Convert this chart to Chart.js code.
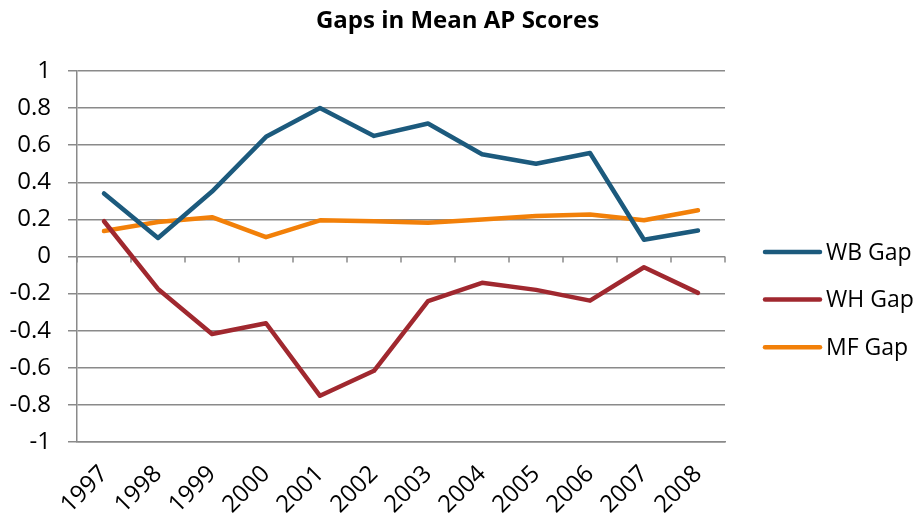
<!DOCTYPE html>
<html>
<head>
<meta charset="utf-8">
<script src="https://cdn.jsdelivr.net/npm/chart.js@4.4.1/dist/chart.umd.min.js"></script>
<style>
  html, body { margin: 0; padding: 0; background: #ffffff; }
  #wrap { width: 915px; height: 523px; position: relative; }
</style>
</head>
<body>
<div id="wrap"><canvas id="c"></canvas></div>
<script>
// ---- data ----
const years = ["1997","1998","1999","2000","2001","2002","2003","2004","2005","2006","2007","2008"];
const wbGap = [0.34, 0.10, 0.35, 0.645, 0.80, 0.65, 0.717, 0.551, 0.50, 0.558, 0.09, 0.14];
const whGap = [0.19, -0.175, -0.418, -0.36, -0.751, -0.616, -0.241, -0.142, -0.18, -0.238, -0.058, -0.196];
const mfGap = [0.137, 0.186, 0.212, 0.104, 0.195, 0.19, 0.182, 0.20, 0.218, 0.227, 0.195, 0.249];
const seriesNames = ["WB Gap", "WH Gap", "MF Gap"];
const yTickValues = [-1, -0.8, -0.6, -0.4, -0.2, 0, 0.2, 0.4, 0.6, 0.8, 1];
const chartTitle = "Gaps in Mean AP Scores";

const colors = ["#1c5a7d", "#a0282f", "#f28009"];
const gridColor = "#8a8a8a";
const FONT = "'Open Sans', 'DejaVu Sans', sans-serif";

// short tick marks along the zero line at category boundaries
const zeroTicks = {
  id: 'zeroTicks',
  beforeDatasetsDraw(chart) {
    const x = chart.scales.x, y = chart.scales.y;
    const y0 = y.getPixelForValue(0);
    const n = years.length;
    const step = (x.right - x.left) / n;
    const ctx = chart.ctx;
    ctx.save();
    ctx.strokeStyle = gridColor;
    ctx.lineWidth = 1.5;
    ctx.beginPath();
    for (let i = 0; i <= n; i++) {
      const px = x.left + i * step;
      ctx.moveTo(px, y0);
      ctx.lineTo(px, y0 + 6);
    }
    ctx.stroke();
    ctx.restore();
  }
};

// legend at the right
const sideLegend = {
  id: 'sideLegend',
  afterDraw(chart) {
    const ctx = chart.ctx;
    const ca = chart.chartArea;
    const x0 = ca.right + 40;
    const lineLen = 55;
    const yStart = ca.top + 181;
    const gap = 47.6;
    ctx.save();
    ctx.font = "23px " + FONT;
    ctx.textBaseline = 'middle';
    ctx.textAlign = 'left';
    chart.data.datasets.forEach((ds, i) => {
      const yy = yStart + i * gap;
      ctx.strokeStyle = ds.borderColor;
      ctx.lineWidth = 4.5;
      ctx.lineCap = 'round';
      ctx.beginPath();
      ctx.moveTo(x0, yy);
      ctx.lineTo(x0 + lineLen, yy);
      ctx.stroke();
      ctx.fillStyle = '#000000';
      ctx.fillText(ds.label, x0 + lineLen + 6, yy + 1);
    });
    ctx.restore();
  }
};

const mk = (label, data, color) => ({
  label, data,
  borderColor: color,
  backgroundColor: color,
  borderWidth: 4.5,
  pointRadius: 0,
  pointHoverRadius: 0,
  tension: 0,
  fill: false,
  borderCapStyle: 'round',
  borderJoinStyle: 'round'
});

new Chart(document.getElementById('c'), {
  type: 'line',
  data: {
    labels: years,
    datasets: [
      mk(seriesNames[0], wbGap, colors[0]),
      mk(seriesNames[1], whGap, colors[1]),
      mk(seriesNames[2], mfGap, colors[2])
    ]
  },
  options: {
    responsive: true,
    maintainAspectRatio: false,
    animation: false,
    events: [],
    layout: { padding: 0 },
    plugins: {
      legend: { display: false },
      tooltip: { enabled: false },
      title: {
        display: true,
        text: chartTitle,
        color: '#000000',
        font: { family: FONT, size: 24, weight: 'bold', lineHeight: 1.2 },
        padding: { top: 7, bottom: 35.2 }
      }
    },
    scales: {
      x: {
        offset: true,
        grid: { display: false, drawTicks: false },
        border: { display: true, color: gridColor, width: 1.5 },
        ticks: {
          color: '#000000',
          font: { family: FONT, size: 24 },
          minRotation: 45,
          maxRotation: 45,
          padding: 18,
          autoSkip: false
        },
        afterFit(scale) { scale.height = 81; }
      },
      y: {
        min: -1,
        max: 1,
        afterBuildTicks(scale) { scale.ticks = yTickValues.map(v => ({ value: v })); },
        grid: { color: gridColor, lineWidth: 1.5, tickLength: 9, tickColor: gridColor, drawTicks: true },
        border: { display: true, color: gridColor, width: 1.5 },
        ticks: {
          color: '#000000',
          font: { family: FONT, size: 24 },
          padding: 17,
          callback: (v) => String(Number(v.toFixed(1)))
        },
        afterFit(scale) { scale.width = 77; }
      },
      legendSpace: {
        type: 'linear',
        position: 'right',
        display: true,
        grid: { display: false, drawTicks: false },
        border: { display: false },
        ticks: { display: false },
        afterFit(scale) { scale.width = 190; }
      }
    }
  },
  plugins: [zeroTicks, sideLegend]
});
</script>
</body>
</html>
